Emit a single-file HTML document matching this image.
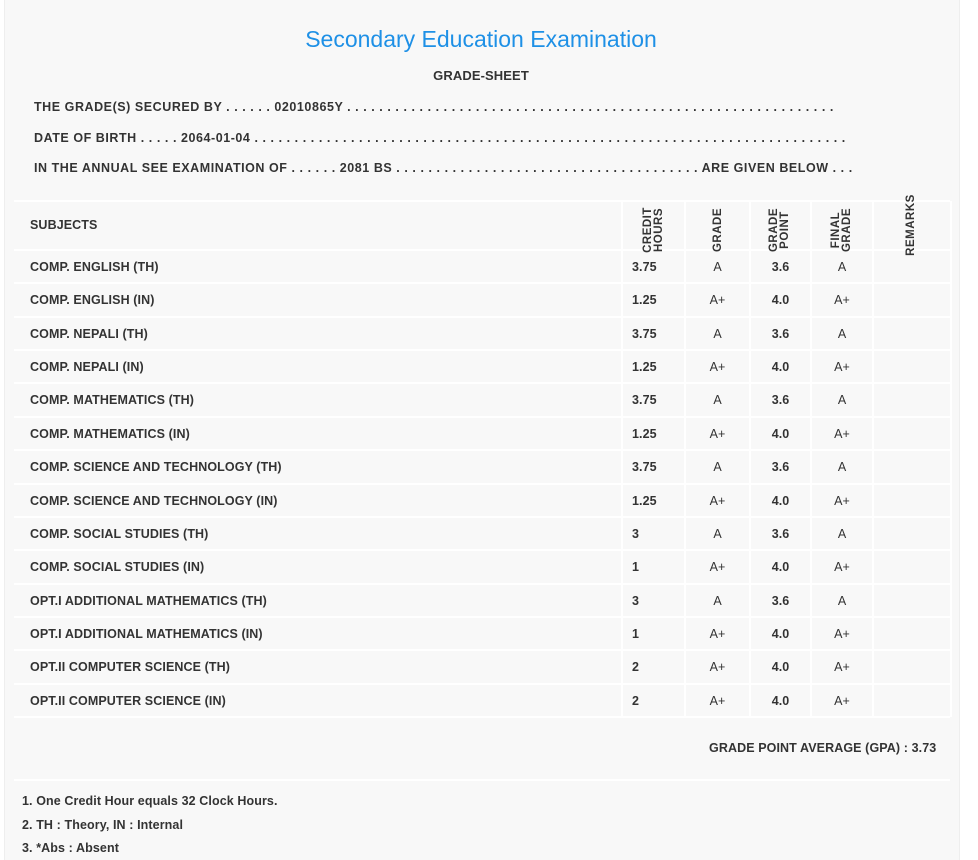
<!DOCTYPE html>
<html><head><meta charset="utf-8"><style>
body{margin:0;width:978px;height:860px;background:#fff;font-family:"Liberation Sans",sans-serif;position:relative;overflow:hidden}
.wrap{position:absolute;left:4px;top:0;width:954px;height:860px;background:#f8f8f8;border-left:1px solid #eee;border-right:1px solid #eee}
.t{position:absolute;font-weight:bold;font-size:12.5px;color:#333;white-space:nowrap;letter-spacing:0.1px}
.title{position:absolute;left:0;width:962px;top:26px;text-align:center;font-size:23px;color:#1e90e6}
.hl{position:absolute;left:14px;width:936px;height:2px;background:#fff}
.vl{position:absolute;width:2px;background:#fff;top:201px;height:516px}
.rot{position:absolute;transform:rotate(-90deg);transform-origin:center;font-weight:bold;font-size:11.5px;color:#333;text-align:center;line-height:11px;letter-spacing:0.5px}
.c{position:absolute;text-align:center;font-weight:bold;font-size:12.5px;color:#333}
.dl{letter-spacing:0.55px}
</style></head><body>
<div class="wrap"></div>
<div class="title">Secondary Education Examination</div>
<div class="t" style="left:0;width:962px;text-align:center;top:68px;font-size:13px">GRADE-SHEET</div>
<div class="t dl" style="left:34px;top:100px">THE GRADE(S) SECURED BY . . . . . . 02010865Y . . . . . . . . . . . . . . . . . . . . . . . . . . . . . . . . . . . . . . . . . . . . . . . . . . . . . . . . . . . . .</div>
<div class="t dl" style="left:34px;top:131px">DATE OF BIRTH . . . . . 2064-01-04 . . . . . . . . . . . . . . . . . . . . . . . . . . . . . . . . . . . . . . . . . . . . . . . . . . . . . . . . . . . . . . . . . . . . . . . . . .</div>
<div class="t dl" style="left:34px;top:161px">IN THE ANNUAL SEE EXAMINATION OF . . . . . . 2081 BS . . . . . . . . . . . . . . . . . . . . . . . . . . . . . . . . . . . . . . ARE GIVEN BELOW . . .</div>

<div class="hl" style="top:200px"></div>
<div class="hl" style="top:249px"></div>
<div class="vl" style="left:621px"></div>
<div class="vl" style="left:684px"></div>
<div class="vl" style="left:749px"></div>
<div class="vl" style="left:810px"></div>
<div class="vl" style="left:872px"></div>
<div class="vl" style="left:950px"></div>
<div class="hl" style="top:716px"></div>
<div class="hl" style="top:779px"></div>

<div class="t" style="left:30px;top:218px">SUBJECTS</div>
<div class="rot" style="left:624px;top:219px;width:60px">CREDIT<br>HOURS</div>
<div class="rot" style="left:688px;top:219px;width:60px;line-height:22px">GRADE</div>
<div class="rot" style="left:750px;top:219px;width:60px">GRADE<br>POINT</div>
<div class="rot" style="left:812px;top:219px;width:60px">FINAL<br>GRADE</div>
<div class="rot" style="left:871px;top:214px;width:80px;line-height:22px">REMARKS</div>

<div id="rows"></div>
<script>
var d=[["COMP. ENGLISH (TH)","3.75","A","3.6","A"],["COMP. ENGLISH (IN)","1.25","A+","4.0","A+"],["COMP. NEPALI (TH)","3.75","A","3.6","A"],["COMP. NEPALI (IN)","1.25","A+","4.0","A+"],["COMP. MATHEMATICS (TH)","3.75","A","3.6","A"],["COMP. MATHEMATICS (IN)","1.25","A+","4.0","A+"],["COMP. SCIENCE AND TECHNOLOGY (TH)","3.75","A","3.6","A"],["COMP. SCIENCE AND TECHNOLOGY (IN)","1.25","A+","4.0","A+"],["COMP. SOCIAL STUDIES (TH)","3","A","3.6","A"],["COMP. SOCIAL STUDIES (IN)","1","A+","4.0","A+"],["OPT.I ADDITIONAL MATHEMATICS (TH)","3","A","3.6","A"],["OPT.I ADDITIONAL MATHEMATICS (IN)","1","A+","4.0","A+"],["OPT.II COMPUTER SCIENCE (TH)","2","A+","4.0","A+"],["OPT.II COMPUTER SCIENCE (IN)","2","A+","4.0","A+"]];
var h="";
for(var i=0;i<d.length;i++){var rt=Math.round(250+i*33.36);var ty=rt+10;
if(i>0)h+='<div class="hl" style="top:'+(rt-1)+'px"></div>';
h+='<div class="t" style="left:30px;top:'+ty+'px">'+d[i][0]+'</div>';
h+='<div class="t" style="left:632px;top:'+ty+'px">'+d[i][1]+'</div>';
h+='<div class="c" style="left:686px;width:63px;top:'+ty+'px;font-weight:normal">'+d[i][2]+'</div>';
h+='<div class="c" style="left:751px;width:59px;top:'+ty+'px">'+d[i][3]+'</div>';
h+='<div class="c" style="left:812px;width:60px;top:'+ty+'px;font-weight:normal">'+d[i][4]+'</div>';}
document.getElementById("rows").innerHTML=h;
</script>

<div class="t" style="left:709px;top:741px">GRADE POINT AVERAGE (GPA) : 3.73</div>
<div class="t" style="left:22px;top:794px">1. One Credit Hour equals 32 Clock Hours.</div>
<div class="t" style="left:22px;top:818px">2. TH : Theory, IN : Internal</div>
<div class="t" style="left:22px;top:841px">3. *Abs : Absent</div>
</body></html>
